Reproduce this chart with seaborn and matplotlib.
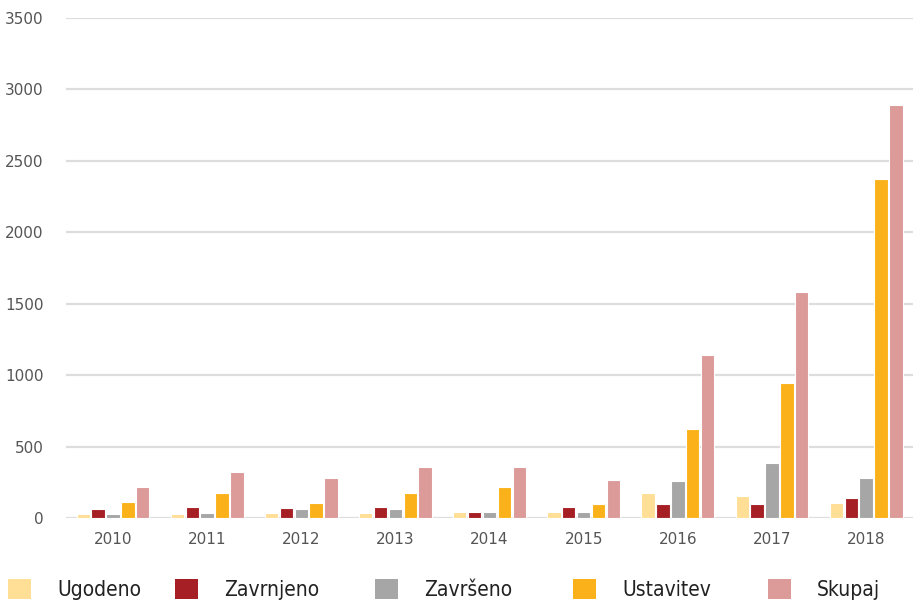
import numpy as np
import pandas as pd
import matplotlib
matplotlib.use("Agg")
import matplotlib.pyplot as plt
import seaborn as sns
from matplotlib.patches import Patch

years = ["2010", "2011", "2012", "2013", "2014", "2015", "2016", "2017", "2018"]
series = ["Ugodeno", "Zavrnjeno", "Završeno", "Ustavitev", "Skupaj"]
colors = ["#FEDF95", "#A61F24", "#A6A6A6", "#FBB21A", "#DC9A98"]

ugodeno   = [30, 30, 37, 37, 45, 45, 177, 153, 107]
zavrnjeno = [60, 80, 70, 80, 45, 80, 95, 95, 142]
zavrseno  = [30, 37, 60, 60, 45, 45, 258, 385, 280]
ustavitev = [115, 175, 105, 175, 220, 95, 625, 945, 2370]
skupaj    = [220, 325, 280, 360, 360, 268, 1140, 1580, 2890]

values = [ugodeno, zavrnjeno, zavrseno, ustavitev, skupaj]
rows = []
for name, vals in zip(series, values):
    for y, v in zip(years, vals):
        rows.append({"leto": y, "vrsta": name, "stevilo": v})
df = pd.DataFrame(rows)

sns.set_style("white")
fig = plt.figure(figsize=(9.15, 6.02), dpi=100)
ax = fig.add_axes([0.072, 0.1395, 0.926, 0.8305])

sns.barplot(data=df, x="leto", y="stevilo", hue="vrsta", order=years,
            hue_order=series, palette=colors, saturation=1, width=0.79,
            gap=0.1, edgecolor="white", linewidth=0.8, legend=False, ax=ax)

ax.set_ylim(0, 3500)
ax.set_xlim(-0.5, 8.5)
ax.set_yticks(np.arange(0, 3501, 500))
ax.yaxis.grid(True, color="#dddddd", linewidth=1.6)
ax.set_axisbelow(True)
for s in ax.spines.values():
    s.set_visible(False)
ax.set_xlabel("")
ax.set_ylabel("")
ax.tick_params(axis="y", length=0, pad=16, labelsize=11, labelcolor="#555555")
ax.tick_params(axis="x", length=0, pad=10, labelsize=11, labelcolor="#555555")

# legend entries spaced like the original (one small legend per entry)
leg_x = [8, 175, 375, 573, 768]
for name, c, x in zip(series, colors, leg_x):
    fig.legend([Patch(facecolor=c, edgecolor="none")], [name],
               loc="lower left", bbox_to_anchor=(x / 915, 0.003),
               frameon=False, handlelength=1.1, handleheight=1.1,
               handletextpad=1.25, borderpad=0, borderaxespad=0,
               prop={"family": "DejaVu Sans", "stretch": "condensed",
                     "size": 15},
               labelcolor="#222222")

fig.savefig("out.png", dpi=100)
